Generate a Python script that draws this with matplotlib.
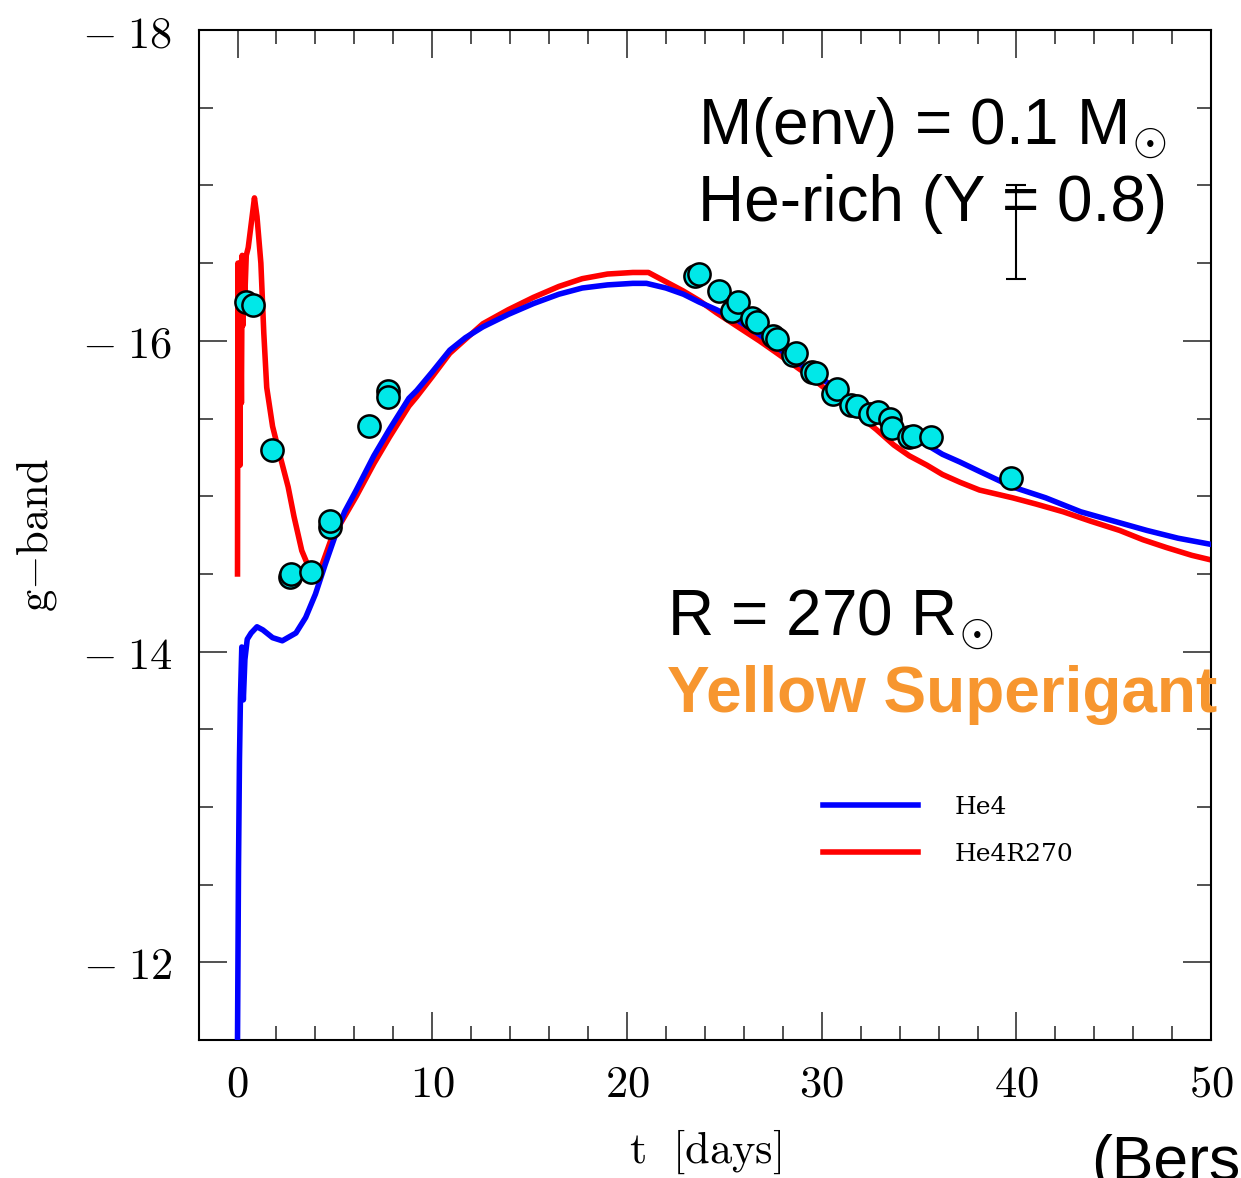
import numpy as np
import matplotlib
matplotlib.use("Agg")
from matplotlib import pyplot as plt
from matplotlib.ticker import MultipleLocator, FuncFormatter

plt.rcParams['mathtext.fontset'] = 'cm'

# model light curves (g-band absolute magnitude vs days)
he4_t = [0.0, 0.05, 0.1, 0.15, 0.22, 0.3, 0.38, 0.5, 0.7, 1.0, 1.3, 1.8, 2.3, 3.0, 3.5,
         4.0, 4.5, 5.0, 5.5, 6.1, 7.0, 7.8, 8.8, 9.2, 10.0, 10.9, 11.7, 12.6, 13.9, 15.2,
         16.5, 17.7, 19.0, 20.3, 21.0, 22.0, 22.9, 23.7, 24.6, 25.7, 26.8, 27.6, 28.5,
         29.4, 30.3, 31.1, 32.0, 32.8, 33.7, 34.5, 35.4, 36.2, 37.1, 38.1, 39.8, 41.5,
         43.3, 45.0, 46.7, 48.3, 50.0]
he4_mag = [-11.5, -12.6, -13.3, -13.7, -14.03, -13.69, -13.95, -14.08, -14.12, -14.16, -14.14,
           -14.09, -14.07, -14.12, -14.22, -14.37, -14.56, -14.74, -14.9, -15.04, -15.26,
           -15.43, -15.63, -15.68, -15.8, -15.94, -16.02, -16.09, -16.17, -16.24, -16.3,
           -16.34, -16.36, -16.37, -16.37, -16.34, -16.3, -16.25, -16.2, -16.13, -16.04,
           -15.97, -15.88, -15.81, -15.73, -15.65, -15.56, -15.5, -15.43, -15.38, -15.33,
           -15.27, -15.22, -15.16, -15.06, -14.99, -14.9, -14.84, -14.78, -14.73, -14.69]

r270_t = [0.0, 0.02, 0.04, 0.06, 0.08, 0.1, 0.13, 0.16, 0.2, 0.24, 0.28, 0.33, 0.38, 0.45,
          0.55, 0.7, 0.87, 1.0, 1.2, 1.35, 1.5, 1.8, 2.1, 2.6, 2.9, 3.3, 3.7, 4.2, 4.8,
          5.5, 6.1, 7.0, 7.8, 8.8, 9.2, 10.0, 10.9, 11.7, 12.6, 13.9, 15.2, 16.5, 17.7,
          19.0, 20.3, 21.1, 22.0, 22.9, 23.7, 24.6, 25.7, 26.8, 27.6, 28.5, 29.4, 30.3,
          31.1, 32.0, 32.8, 33.7, 34.5, 35.4, 36.2, 37.1, 38.1, 39.8, 41.0, 42.4, 43.8,
          45.3, 46.5, 47.7, 49.0, 50.0]
r270_mag = [-14.5, -16.5, -15.8, -16.45, -15.3, -16.5, -15.2, -16.4, -15.6, -16.55, -16.1, -16.45,
            -16.3, -16.55, -16.6, -16.75, -16.92, -16.8, -16.5, -16.05, -15.7, -15.45, -15.3,
            -15.06, -14.87, -14.65, -14.53, -14.51, -14.72, -14.87, -15.0, -15.21, -15.38,
            -15.58, -15.64, -15.77, -15.92, -16.01, -16.11, -16.2, -16.28, -16.35, -16.4,
            -16.43, -16.44, -16.44, -16.38, -16.32, -16.26, -16.18, -16.09, -16.0, -15.93,
            -15.85, -15.77, -15.68, -15.6, -15.51, -15.43, -15.33, -15.26, -15.2, -15.14,
            -15.09, -15.04, -14.99, -14.95, -14.9, -14.84, -14.78, -14.72, -14.67, -14.62,
            -14.59]

# observed points
obs_t = [0.46, 0.77, 1.75, 2.72, 2.75, 3.75, 4.73, 4.75, 6.73, 7.71, 7.72,
         23.5, 23.7, 24.7, 25.4, 25.7, 26.4, 26.7, 27.5, 27.7, 28.5, 28.7,
         29.5, 29.7, 30.6, 30.8, 31.5, 31.8, 32.5, 32.9, 33.5, 33.6, 34.5, 34.7,
         35.6, 39.7]
obs_mag = [-16.25, -16.23, -15.30, -14.48, -14.50, -14.51, -14.80, -14.84, -15.45, -15.68, -15.64,
           -16.42, -16.43, -16.32, -16.19, -16.25, -16.15, -16.12, -16.03, -16.01, -15.91,
           -15.92, -15.80, -15.79, -15.66, -15.69, -15.59, -15.58, -15.53, -15.54, -15.50,
           -15.44, -15.38, -15.39, -15.38, -15.12]

err_t = [40.0]
err_mag = [-16.7]
err_size = [0.3]

fig = plt.figure(figsize=(12.41, 11.78), dpi=100)
ax = fig.add_axes([0.160, 0.117, 0.816, 0.8575])

red_line, = ax.plot(r270_t, r270_mag, color='#ff0000', lw=4, label='He4R270', zorder=2)
blue_line, = ax.plot(he4_t, he4_mag, color='#0000ff', lw=4, label='He4', zorder=3)
ax.plot(obs_t, obs_mag, 'o', ms=16, mfc='#00e8e8', mec='black', mew=1.8, zorder=4)
ax.errorbar(err_t, err_mag, yerr=err_size, fmt='none', ecolor='black', elinewidth=1.5,
            capsize=7, capthick=1.5, zorder=5)

ax.set_xlim(-2, 50)
ax.set_ylim(-11.5, -18)

ax.xaxis.set_major_locator(MultipleLocator(10))
ax.xaxis.set_minor_locator(MultipleLocator(2))
ax.yaxis.set_major_locator(MultipleLocator(2))
ax.yaxis.set_minor_locator(MultipleLocator(0.5))
ax.tick_params(which='both', direction='in', top=True, right=True, width=1.2, color='#333333')
ax.tick_params(which='major', length=20, labelsize=32, pad=19)
ax.tick_params(axis='x', which='major', pad=16)
ax.tick_params(which='minor', length=10)
ax.xaxis.set_major_formatter(FuncFormatter(lambda v, p: r'$%d$' % v))
ax.yaxis.set_major_formatter(FuncFormatter(lambda v, p: r'$-\;%d$' % abs(v)))
for s in ax.spines.values():
    s.set_linewidth(1.5)

ax.set_xlabel(r'$\mathrm{t\ \ [days]}$', fontsize=32, labelpad=16)
ax.set_ylabel(r'$\mathrm{g{-}band}$', fontsize=32, labelpad=16)

ax.legend([blue_line, red_line], ['He4', 'He4R270'], loc='center left',
          bbox_to_anchor=(0.617, 0.207), frameon=False, borderaxespad=0, borderpad=0,
          handlelength=3.8, handletextpad=1.45, labelspacing=0.95,
          prop={'family': 'DejaVu Serif', 'size': 18})

sans = 'Liberation Sans'
ax.text(23.64, -17.26, r'M(env) = 0.1 M$_{\odot}$', fontsize=46, family=sans, va='baseline')
ax.text(23.64, -16.77, 'He-rich (Y = 0.8)', fontsize=46, family=sans, va='baseline')
ax.text(22.05, -14.10, r'R = 270 R$_{\odot}$', fontsize=46, family=sans, va='baseline')
ax.text(22.05, -13.61, 'Yellow Superigant', fontsize=46, family=sans, weight='bold',
        color='#f7962f', va='baseline', clip_on=False)
# citation in the corner, cut by the figure edge as in the source slide
fig.text(0.879, -0.002, '(Bers', fontsize=45, family=sans, va='baseline')

fig.savefig('out.png', dpi=100)
